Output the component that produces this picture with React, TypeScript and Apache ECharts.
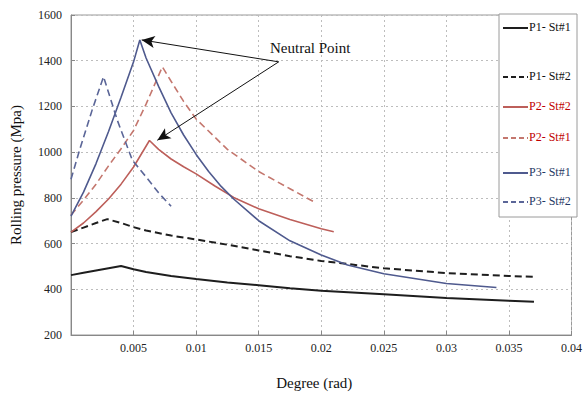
import React, { useEffect, useRef } from "react";
import * as echarts from "echarts";

// Degree (rad) / Rolling pressure (Mpa)
const p1s1X = [0, 0.001, 0.002, 0.003, 0.004, 0.005, 0.006, 0.008, 0.01, 0.0125, 0.015, 0.0175, 0.02, 0.025, 0.03, 0.035, 0.037];
const p1s1Y = [462, 472, 482, 492, 502, 488, 476, 458, 445, 430, 418, 405, 394, 378, 362, 350, 345];

const p1s2X = [0, 0.001, 0.002, 0.0029, 0.004, 0.005, 0.006, 0.008, 0.01, 0.0125, 0.015, 0.0175, 0.02, 0.025, 0.03, 0.035, 0.037];
const p1s2Y = [650, 670, 690, 707, 690, 672, 657, 635, 618, 595, 570, 545, 524, 492, 471, 458, 455];

const p2s2X = [0, 0.001, 0.002, 0.003, 0.004, 0.005, 0.00627, 0.007, 0.008, 0.009, 0.01, 0.0115, 0.013, 0.015, 0.0175, 0.02, 0.021];
const p2s2Y = [650, 690, 740, 795, 860, 935, 1051, 1012, 970, 936, 905, 852, 802, 752, 705, 665, 652];

const p2s1X = [0, 0.001, 0.002, 0.003, 0.004, 0.005, 0.006, 0.0073, 0.008, 0.009, 0.01, 0.0125, 0.015, 0.0175, 0.0195];
const p2s1Y = [725, 790, 860, 940, 1015, 1095, 1210, 1373, 1310, 1222, 1145, 1012, 915, 840, 780];

const p3s1X = [0, 0.001, 0.002, 0.003, 0.004, 0.005, 0.0055, 0.006, 0.007, 0.008, 0.009, 0.01, 0.011, 0.012, 0.013, 0.015, 0.0175, 0.02, 0.0221, 0.025, 0.03, 0.034];
const p3s1Y = [720, 825, 950, 1090, 1240, 1395, 1491, 1412, 1288, 1172, 1075, 990, 915, 850, 795, 700, 612, 550, 506, 468, 425, 408];

const p3s2X = [0, 0.0007, 0.0017, 0.0026, 0.0037, 0.0049, 0.0061, 0.007, 0.008];
const p3s2Y = [881, 1012, 1186, 1330, 1140, 965, 885, 822, 763];

const legendNames = ["P1- St#1", "P1- St#2", "P2- St#2", "P2- St#1", "P3- St#1", "P3- St#2"];
const xTicks = [0, 0.005, 0.01, 0.015, 0.02, 0.025, 0.03, 0.035, 0.04];

const BLACK = "#1e1e1e";
const RED = "#bd5f5a";
const RED_D = "#c4776e";
const BLUE = "#4f5a8e";
const BLUE_D = "#5b6698";
const SERIF = "Times New Roman, Liberation Serif, serif";

const zip = (xs: number[], ys: number[]) => xs.map((x, i) => [x, ys[i]]);

export default function App() {
  const ref = useRef<HTMLDivElement>(null);
  useEffect(() => {
    if (!ref.current) return;
    const chart = echarts.init(ref.current, null, { renderer: "svg" });
    const mk = (name: string, xs: number[], ys: number[], color: string, dashed: boolean, width: number) => ({
      name,
      type: "line",
      data: zip(xs, ys),
      showSymbol: false,
      symbol: "none",
      lineStyle: { color, width, type: dashed ? [7, 4] : "solid" },
      itemStyle: { color },
      z: 3,
    });
    const legendY = [28, 77, 107, 138, 173, 202];
    const legendColors = [BLACK, BLACK, RED, RED_D, BLUE, BLUE_D];
    const legendText = ["#111", "#111", "#c00000", "#c00000", "#1f3864", "#1f3864"];
    const legendDash = [false, true, false, true, false, true];
    const graphics: any[] = [
      {
        type: "rect",
        shape: { x: 499, y: 14, width: 78, height: 203 },
        style: { fill: "#fff", stroke: "#9a9a9a", lineWidth: 1 },
        z: 10,
      },
      {
        type: "text",
        x: 270,
        y: 40,
        style: { text: "Neutral Point", fontFamily: SERIF, fontSize: 15, fill: "#111" },
        z: 10,
      },
    ];
    legendNames.forEach((n, i) => {
      graphics.push({
        type: "line",
        shape: { x1: 503, y1: legendY[i], x2: 528, y2: legendY[i] },
        style: { stroke: legendColors[i], lineWidth: 2, lineDash: legendDash[i] ? [5, 3] : null },
        z: 11,
      });
      graphics.push({
        type: "text",
        x: 529,
        y: legendY[i] - 7,
        style: { text: n, fontFamily: SERIF, fontSize: 12, fill: legendText[i] },
        z: 11,
      });
    });

    chart.setOption({
      animation: false,
      backgroundColor: "#fff",
      grid: { left: 71, top: 15, right: 8, bottom: 59, show: true, borderColor: "#999", borderWidth: 1 },
      xAxis: {
        type: "value",
        min: 0,
        max: 0.04,
        interval: 0.005,
        name: "Degree (rad)",
        nameLocation: "middle",
        nameGap: 40,
        nameTextStyle: { fontFamily: SERIF, fontSize: 15, color: "#111", padding: [0, 14, 0, 0] },
        axisLine: { lineStyle: { color: "#888" } },
        axisTick: { inside: true, length: 4, lineStyle: { color: "#888" } },
        axisLabel: {
          fontFamily: SERIF,
          fontSize: 12,
          color: "#222",
          margin: 7,
          formatter: (v: number) => {
            const t = xTicks.find((k) => Math.abs(k - v) < 1e-9);
            if (t === undefined || t === 0) return "";
            return String(t);
          },
        },
        splitLine: { show: true, lineStyle: { color: "#bdbdbd", type: [2, 3], width: 1 } },
      },
      yAxis: {
        type: "value",
        min: 200,
        max: 1600,
        interval: 200,
        name: "Rolling pressure (Mpa)",
        nameLocation: "middle",
        nameGap: 48,
        nameTextStyle: { fontFamily: SERIF, fontSize: 15, color: "#111" },
        axisLine: { show: true, lineStyle: { color: "#888" } },
        axisTick: { show: true, inside: true, length: 4, lineStyle: { color: "#888" } },
        axisLabel: { fontFamily: SERIF, fontSize: 12, color: "#222", margin: 9, formatter: (v: number) => String(v) },
        splitLine: { show: true, lineStyle: { color: "#bdbdbd", type: [2, 3], width: 1 } },
      },
      graphic: graphics,
      series: [
        mk("P1- St#1", p1s1X, p1s1Y, BLACK, false, 2),
        mk("P1- St#2", p1s2X, p1s2Y, BLACK, true, 2),
        mk("P2- St#2", p2s2X, p2s2Y, RED, false, 1.6),
        mk("P2- St#1", p2s1X, p2s1Y, RED_D, true, 1.6),
        {
          ...mk("P3- St#1", p3s1X, p3s1Y, BLUE, false, 1.6),
          markLine: {
            silent: true,
            symbol: ["none", "arrow"],
            symbolSize: [9, 13],
            label: { show: false },
            lineStyle: { color: "#111", width: 1, type: "solid" },
            data: [
              [{ coord: [0.0166, 1395] }, { coord: [0.00565, 1491] }],
              [{ coord: [0.0166, 1395] }, { coord: [0.0069, 1052] }],
            ],
          },
        },
        mk("P3- St#2", p3s2X, p3s2Y, BLUE_D, true, 1.6),
      ],
    });
    return () => chart.dispose();
  }, []);
  return <div ref={ref} style={{ width: 585, height: 395, position: "absolute", left: 0, top: 0 }} />;
}
